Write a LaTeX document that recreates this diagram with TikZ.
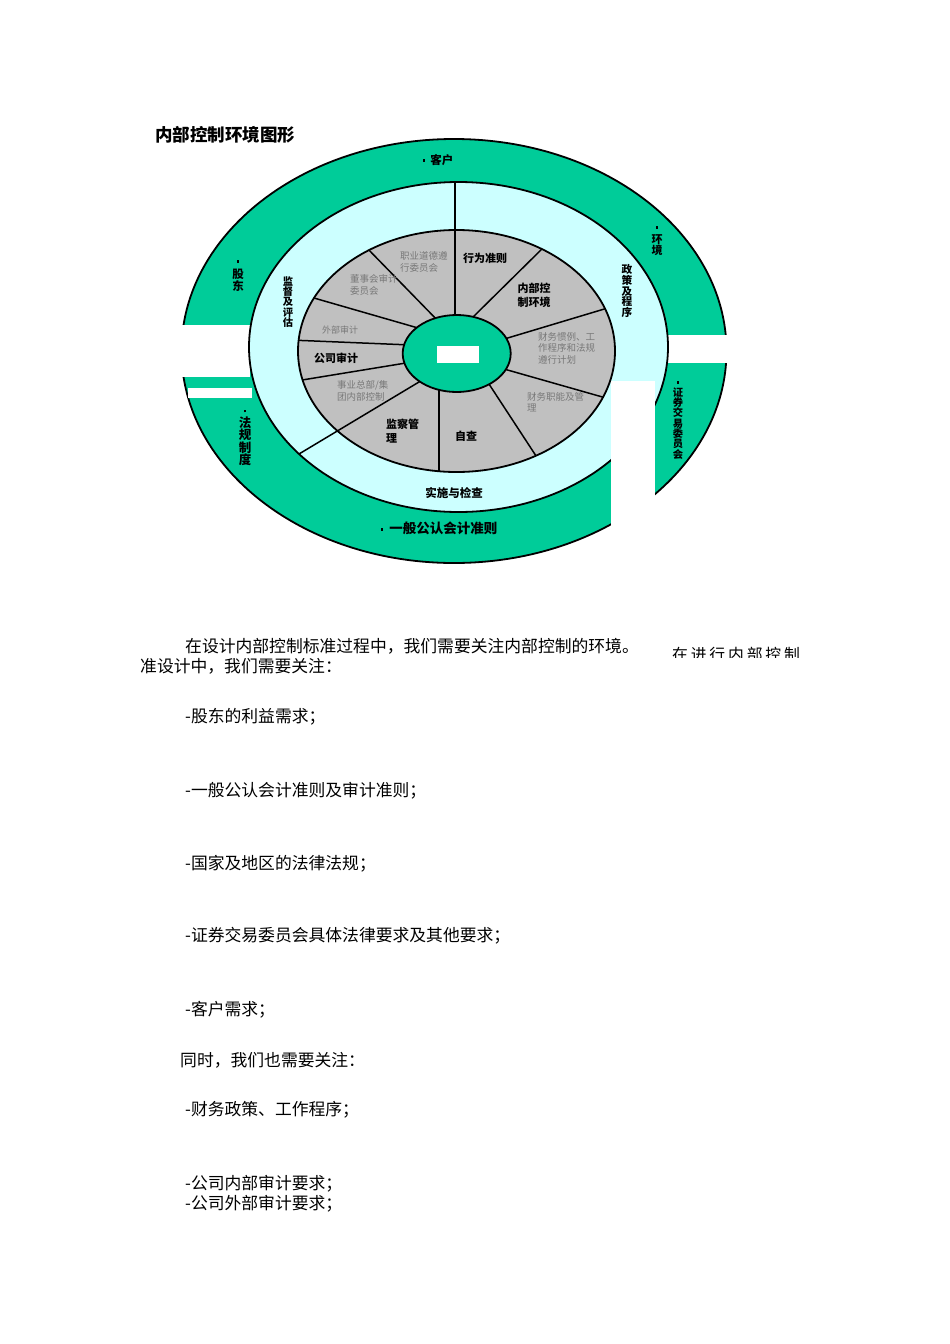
\documentclass[tikz,border=0pt]{standalone}
\usepackage{fontspec}
\setmainfont{Noto Sans CJK SC}
\usetikzlibrary{calc}

\definecolor{ringgreen}{RGB}{0,204,153}
\definecolor{ringcyan}{RGB}{204,255,255}
\definecolor{wheelgray}{RGB}{192,192,192}
\definecolor{notegray}{RGB}{120,120,120}

\newcommand{\ringdot}{\raisebox{2.5pt}{\rule{2.6pt}{2.6pt}}}

\tikzset{
  ringlabel/.style={inner sep=0pt, align=center,
    font=\fontsize{11.5}{12.5}\selectfont\bfseries},
  sectorlabel/.style={inner sep=0pt, align=left,
    font=\fontsize{11}{14}\selectfont\bfseries},
  notelabel/.style={inner sep=0pt, align=left, text=notegray,
    font=\fontsize{9.5}{11.5}\selectfont},
  bodyline/.style={inner sep=0pt, anchor=west,
    font=\fontsize{16.8}{18}\selectfont},
  rim/.style={draw=black, line width=1.8pt},
  spoke/.style={draw=black, line width=1.5pt},
}

\begin{document}
\begin{tikzpicture}[x=1pt,y=-1pt]
  \useasboundingbox[fill=white] (0,0) rectangle (950,1344);

  \node[anchor=west, inner sep=0pt, font=\fontsize{17.5}{18}\selectfont\bfseries]
    (title) at (155,135) {内部控制环境图形};

  % rings
  \fill[ringgreen, rim] (454,351) ellipse [x radius=272.5pt, y radius=212pt];
  \fill[white] (178,325) rectangle (250,377);
  \fill[white] (188,388) rectangle (252,398);
  \fill[white] (665,335) rectangle (730,363);
  \fill[ringcyan, rim] (458.5,347) ellipse [x radius=209.5pt, y radius=165pt];
  \fill[wheelgray] (456.5,351) ellipse [x radius=158.5pt, y radius=121pt];

  \begin{scope}
    \clip (456.5,351) ellipse [x radius=158.5pt, y radius=121pt];
    \foreach \ax/\ay/\bx/\by in {470/320/547/244, 501/340/611/307,
        504/369/620/402, 487/381/540/462, 439/384/439/480,
        412/362/296/381, 411/345/290/340, 425/330/307/296, 442/325/364/245}
      \draw[spoke] (\ax,\ay) -- (\bx,\by);
  \end{scope}
  \coordinate (top-in)  at (455,325);
  \coordinate (top-out) at (455,182);
  \coordinate (ll-in)   at (424,379);
  \coordinate (ll-out)  at (299,454);
  \draw[spoke] (top-in) -- (top-out);
  \draw[spoke] (ll-in) -- (ll-out);
  \draw[rim] (456.5,351) ellipse [x radius=158.5pt, y radius=121pt];

  \fill[ringgreen, rim] (456.7,353.5) ellipse [x radius=54pt, y radius=38.5pt];
  \fill[white] (437,346) rectangle (479,363);
  \fill[white] (611,381) rectangle (655,595);

  % outer ring
  \node[ringlabel] (kehu) at (438,160) {\ringdot\ \ 客户};
  \node[ringlabel, font=\fontsize{13.5}{14}\selectfont\bfseries]
    (zhunze) at (439,528) {\ringdot\ \ 一般公认会计准则};
  \node[ringlabel] (gudong) at (238,276) {\ringdot\\股\\东};
  \node[ringlabel, font=\fontsize{12.5}{12.5}\selectfont\bfseries] (fagui) at (245,438)
    {\ringdot\\法\\规\\制\\度};
  \node[ringlabel, font=\fontsize{11}{11.5}\selectfont\bfseries] (huanjing) at (657,241)
    {\ringdot\\环\\境};
  \node[ringlabel, font=\fontsize{10.3}{10.3}\selectfont\bfseries] (zhengjian) at (678,420)
    {\ringdot\\证\\券\\交\\易\\委\\员\\会};

  % inner ring
  \node[ringlabel, font=\fontsize{10.3}{10.3}\selectfont\bfseries] (jiandu) at (288,302)
    {监\\督\\及\\评\\估};
  \node[ringlabel, font=\fontsize{10.7}{10.7}\selectfont\bfseries] (zhengce) at (627,291)
    {政\\策\\及\\程\\序};
  \node[ringlabel] (shishi) at (454,493) {实施与检查};

  % wheel
  \node[sectorlabel] (xingwei) at (485,258) {行为准则};
  \node[sectorlabel] (neibu) at (534,295) {内部控\\制环境};
  \node[notelabel, anchor=west] (guanli) at (538,348) {财务惯例、工\\作程序和法规\\遵行计划};
  \node[notelabel, anchor=west] (zhineng) at (527,402) {财务职能及管\\理};
  \node[sectorlabel] (zicha) at (466,436) {自查};
  \node[sectorlabel, anchor=west] (jiancha) at (386,431) {监察管\\理};
  \node[notelabel, anchor=west] (jituan) at (337,391) {事业总部/集\\团内部控制};
  \node[sectorlabel] (gongsi) at (336,358) {公司审计};
  \node[notelabel, font=\fontsize{9}{11}\selectfont] (waibu) at (340,330) {外部审计};
  \node[notelabel, anchor=west] (dongshi) at (350,285) {董事会审计\\委员会};
  \node[notelabel, anchor=west] (zhiye) at (400,262) {职业道德遵\\行委员会};

  % text below
  \node[bodyline] (intro-a) at (185,646) {在设计内部控制标准过程中，我们需要关注内部控制的环境。};
  \begin{scope}
    \clip (660,636) rectangle (830,657);
    \node[bodyline, font=\fontsize{15.8}{18}\selectfont] (intro-b) at (672,654)
      {\addfontfeatures{LetterSpace=18}在进行内部控制};
  \end{scope}
  \node[bodyline] (intro-c) at (140,666) {准设计中，我们需要关注：};
  \node[bodyline] (item-a) at (185,717) {-股东的利益需求；};
  \node[bodyline] (item-b) at (185,791) {-一般公认会计准则及审计准则；};
  \node[bodyline] (item-c) at (185,864) {-国家及地区的法律法规；};
  \node[bodyline] (item-d) at (185,936) {-证券交易委员会具体法律要求及其他要求；};
  \node[bodyline] (item-e) at (185,1010) {-客户需求；};
  \node[bodyline] (also) at (180,1060) {同时，我们也需要关注：};
  \node[bodyline] (item-f) at (185,1110) {-财务政策、工作程序；};
  \node[bodyline] (item-g) at (185,1184) {-公司内部审计要求；};
  \node[bodyline] (item-h) at (185,1204) {-公司外部审计要求；};
\end{tikzpicture}
\end{document}
